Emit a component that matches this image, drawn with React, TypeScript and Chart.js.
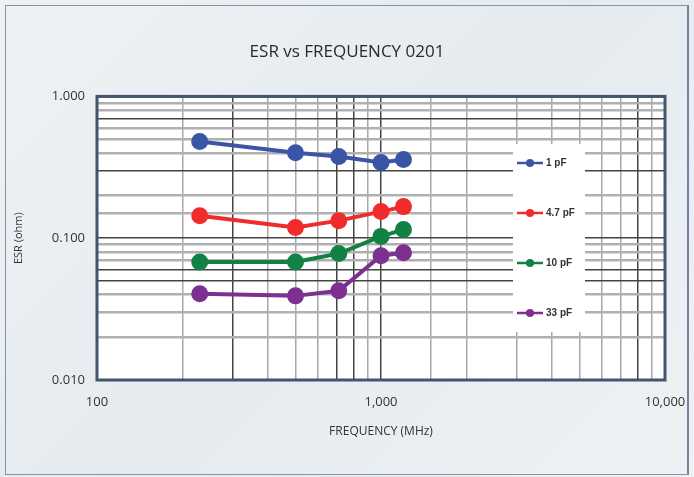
import React, { useEffect, useRef } from "react";
import { Chart, registerables } from "chart.js";

Chart.register(...registerables);

const frequencies = [230, 500, 710, 1000, 1200];
const esr1pF = [0.48, 0.4, 0.377, 0.342, 0.359];
const esr4p7pF = [0.144, 0.119, 0.133, 0.154, 0.167];
const esr10pF = [0.068, 0.068, 0.078, 0.103, 0.115];
const esr33pF = [0.0405, 0.0392, 0.0426, 0.0752, 0.079];
const seriesLabels = ["1 pF", "4.7 pF", "10 pF", "33 pF"];
const seriesColors = ["#3a55a6", "#ef2b2b", "#128244", "#7c3192"];
const xTickLabels: Record<number, string> = { 100: "100", 1000: "1,000", 10000: "10,000" };
const yTickLabels: Record<string, string> = { "0.01": "0.010", "0.1": "0.100", "1": "1.000" };

const FONT = "'Open Sans', 'Noto Sans', sans-serif";

function near(v: number, t: number) {
  return Math.abs(v - t) / t < 1e-6;
}
const isDecade = (v: number) => {
  const l = Math.log10(v);
  return Math.abs(l - Math.round(l)) < 1e-6;
};

const legendPlugin = {
  id: "boxLegend",
  afterDatasetsDraw(chart: any) {
    const ctx = chart.ctx;
    ctx.save();
    ctx.fillStyle = "#ffffff";
    ctx.fillRect(513, 144, 72, 188);
    const ys = [163, 213, 263, 313];
    chart.data.datasets.forEach((ds: any, i: number) => {
      const y = ys[i];
      ctx.strokeStyle = ds.borderColor;
      ctx.lineWidth = 2.5;
      ctx.beginPath();
      ctx.moveTo(517, y);
      ctx.lineTo(543, y);
      ctx.stroke();
      ctx.fillStyle = ds.borderColor;
      ctx.beginPath();
      ctx.arc(530, y, 4, 0, Math.PI * 2);
      ctx.fill();
      ctx.fillStyle = "#333";
      ctx.font = "bold 10px 'Liberation Sans', Arial, sans-serif";
      ctx.textBaseline = "middle";
      ctx.textAlign = "left";
      ctx.fillText(ds.label, 546, y + 0.5);
    });
    ctx.restore();
  },
  afterDraw(chart: any) {
    const { left, top, right, bottom } = chart.chartArea;
    const ctx = chart.ctx;
    ctx.save();
    ctx.strokeStyle = "#45556f";
    ctx.lineWidth = 3;
    ctx.strokeRect(left, top, right - left, bottom - top);
    ctx.restore();
  },
};

const bgPlugin = {
  id: "plotBg",
  beforeDraw(chart: any) {
    const { left, top, right, bottom } = chart.chartArea;
    const ctx = chart.ctx;
    ctx.save();
    ctx.fillStyle = "#ffffff";
    ctx.fillRect(left, top, right - left, bottom - top);
    ctx.restore();
  },
};

const darkY = [0.7, 0.3, 0.06, 0.05];
const darkX = [300, 700, 800, 8000];

export default function App() {
  const ref = useRef<HTMLCanvasElement>(null);
  useEffect(() => {
    if (!ref.current) return;
    const series = [esr1pF, esr4p7pF, esr10pF, esr33pF];
    const chart = new Chart(ref.current, {
      type: "line",
      data: {
        datasets: series.map((vals, i) => ({
          label: seriesLabels[i],
          data: frequencies.map((f, j) => ({ x: f, y: vals[j] })),
          borderColor: seriesColors[i],
          backgroundColor: seriesColors[i],
          borderWidth: 4,
          pointRadius: 8.5,
          pointHoverRadius: 8.5,
          pointBorderWidth: 0,
          tension: 0,
        })),
      },
      options: {
        animation: false,
        responsive: false,
        devicePixelRatio: 1,
        layout: { padding: { left: 0, right: 0, top: 0, bottom: 0 } },
        plugins: {
          legend: { display: false },
          tooltip: { enabled: false },
          title: {
            display: true,
            text: "ESR vs FREQUENCY 0201",
            color: "#2a2a2a",
            font: { family: FONT, size: 17, weight: "normal" as any },
            padding: { top: 42, bottom: 34 },
          },
        },
        scales: {
          x: {
            type: "logarithmic",
            min: 100,
            max: 10000,
            border: { display: false },
            grid: {
              drawTicks: false,
              color: (c: any) => {
                const v = c.tick?.value ?? 0;
                return isDecade(v) || darkX.some((d) => near(v, d)) ? "#444" : "#a8a8a8";
              },
              lineWidth: 1.5,
            },
            ticks: {
              autoSkip: false,
              maxRotation: 0,
              padding: 14,
              color: "#333",
              font: { family: FONT, size: 13 },
              callback: (v: any) => {
                const n = Number(v);
                for (const k of Object.keys(xTickLabels)) if (near(n, Number(k))) return xTickLabels[Number(k)];
                return "";
              },
            },
            title: {
              display: true,
              text: "FREQUENCY (MHz)",
              color: "#333",
              font: { family: FONT, size: 12 },
              padding: { top: 0, bottom: 38 },
            },
            afterFit: (s: any) => {
              s.height = 97;
              s.paddingLeft = 0;
              s.paddingRight = 0;
            },
          },
          y: {
            type: "logarithmic",
            min: 0.01,
            max: 1,
            border: { display: false },
            grid: {
              drawTicks: false,
              color: (c: any) => {
                const v = c.tick?.value ?? 0;
                return isDecade(v) || darkY.some((d) => near(v, d)) ? "#444" : "#b0b0b0";
              },
              lineWidth: (c: any) => {
                const v = c.tick?.value ?? 0;
                return isDecade(v) || darkY.some((d) => near(v, d)) ? 1.5 : 2.5;
              },
            },
            ticks: {
              autoSkip: false,
              padding: 12,
              color: "#333",
              font: { family: FONT, size: 13 },
              callback: (v: any) => {
                const n = Number(v);
                for (const k of Object.keys(yTickLabels)) if (near(n, Number(k))) return yTickLabels[k];
                return "";
              },
            },
            title: {
              display: true,
              text: "ESR (ohm)",
              color: "#333",
              font: { family: FONT, size: 11 },
              padding: { top: 12, bottom: 0 },
            },
            afterFit: (s: any) => {
              s.width = 97;
              s.paddingTop = 0;
              s.paddingBottom = 0;
            },
          },
          yRightSpace: {
            type: "linear",
            position: "right",
            display: true,
            border: { display: false },
            grid: { display: false, drawTicks: false },
            ticks: { display: false },
            afterFit: (s: any) => {
              s.width = 29;
              s.paddingTop = 0;
              s.paddingBottom = 0;
            },
          },
        },
      },
      plugins: [bgPlugin, legendPlugin],
    });
    return () => chart.destroy();
  }, []);

  return (
    <div
      style={{
        position: "fixed",
        left: 0,
        top: 0,
        width: 694,
        height: 477,
        background: "linear-gradient(135deg, #eef2f5 0%, #e6ebef 50%, #eef2f5 100%)",
        overflow: "hidden",
      }}
    >
      <div
        style={{
          position: "absolute",
          left: 5,
          top: 5,
          width: 684,
          height: 470,
          border: "1px solid #8094ae",
          borderRight: "2px solid #6f85a3",
          boxSizing: "border-box",
        }}
      />
      <canvas ref={ref} width={694} height={477} style={{ position: "absolute", left: 0, top: 0 }} />
    </div>
  );
}
